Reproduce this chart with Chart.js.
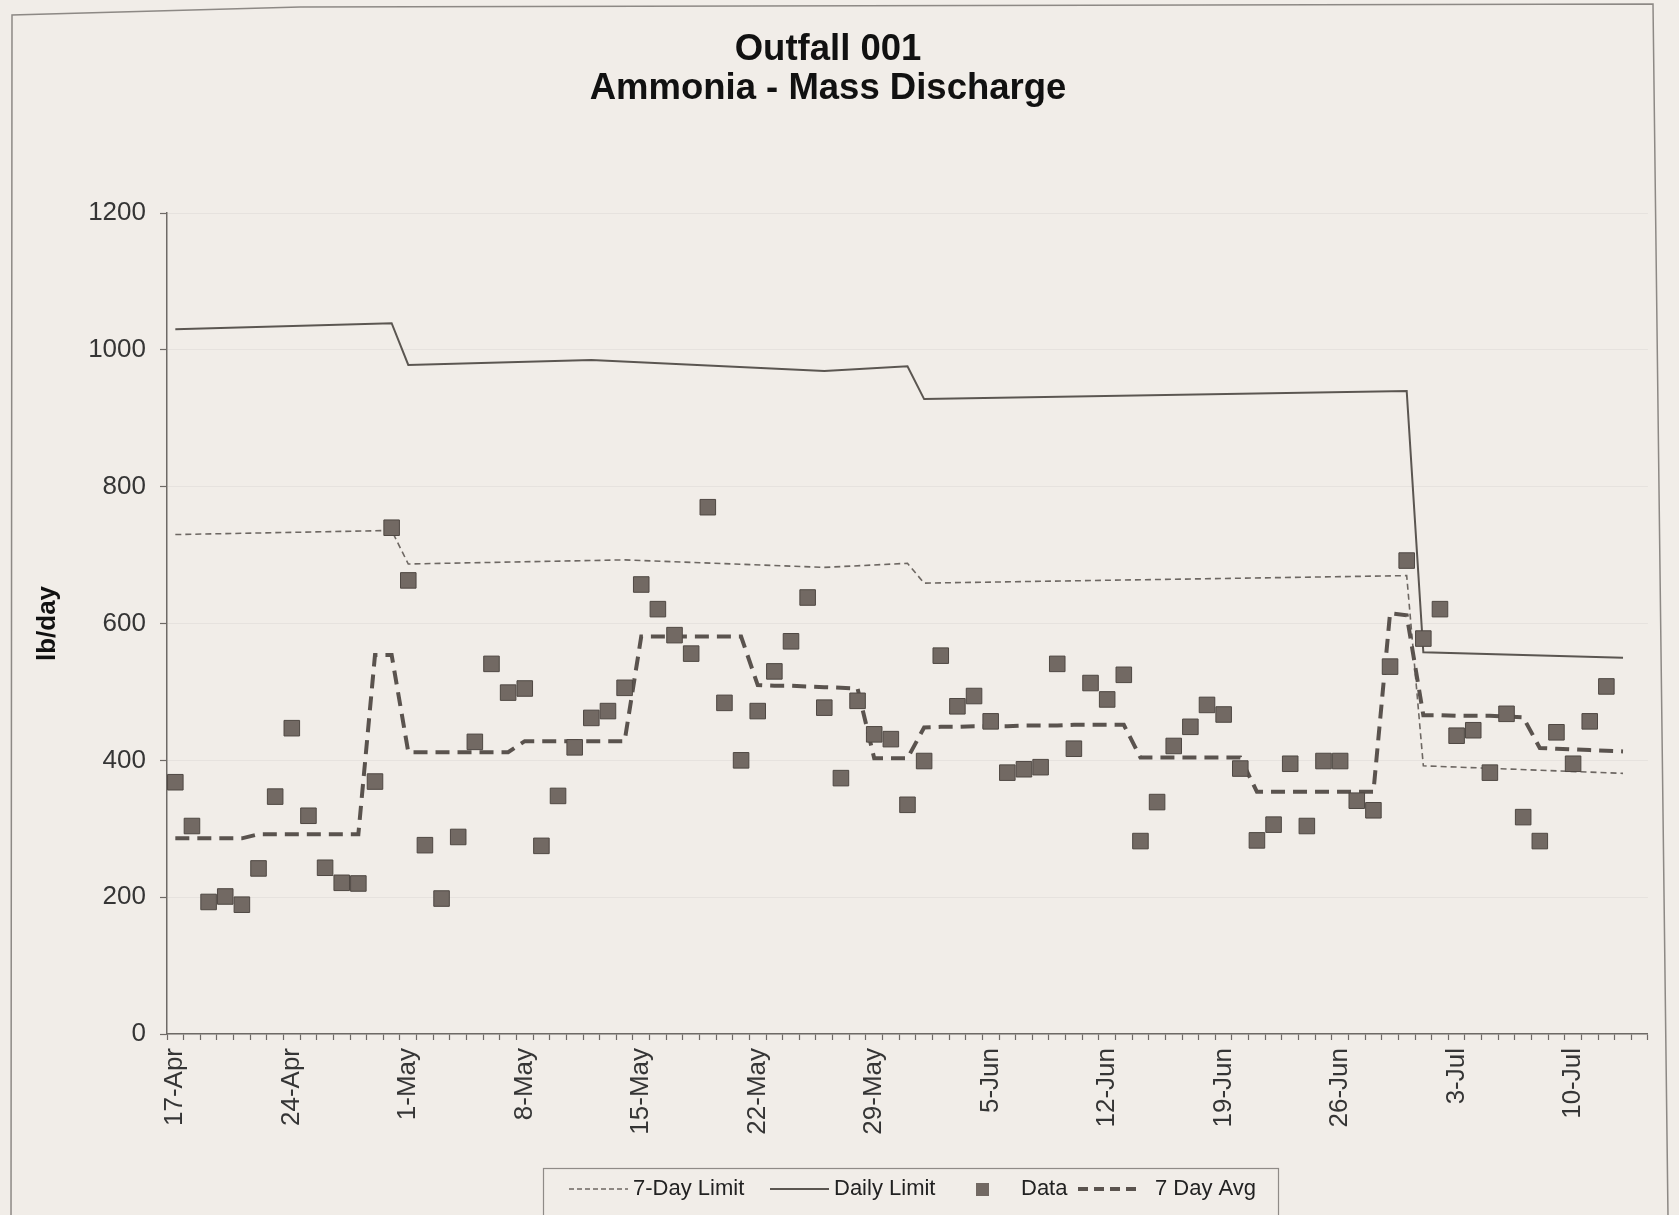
<!DOCTYPE html>
<html>
<head>
<meta charset="utf-8">
<script src="https://cdn.jsdelivr.net/npm/chart.js@4.4.1/dist/chart.umd.min.js"></script>
<style>
html,body{margin:0;padding:0;background:#f1ede8;overflow:hidden}
canvas{display:block}
</style>
</head>
<body>
<canvas id="c" width="1679" height="1215"></canvas>
<script>
// ---- categories (one per day) ----
const dates = [
  "17-Apr","18-Apr","19-Apr","20-Apr","21-Apr","22-Apr","23-Apr","24-Apr","25-Apr","26-Apr","27-Apr","28-Apr","29-Apr","30-Apr",
  "1-May","2-May","3-May","4-May","5-May","6-May","7-May","8-May","9-May","10-May","11-May","12-May","13-May","14-May","15-May","16-May",
  "17-May","18-May","19-May","20-May","21-May","22-May","23-May","24-May","25-May","26-May","27-May","28-May","29-May","30-May","31-May",
  "1-Jun","2-Jun","3-Jun","4-Jun","5-Jun","6-Jun","7-Jun","8-Jun","9-Jun","10-Jun","11-Jun","12-Jun","13-Jun","14-Jun","15-Jun",
  "16-Jun","17-Jun","18-Jun","19-Jun","20-Jun","21-Jun","22-Jun","23-Jun","24-Jun","25-Jun","26-Jun","27-Jun","28-Jun","29-Jun","30-Jun",
  "1-Jul","2-Jul","3-Jul","4-Jul","5-Jul","6-Jul","7-Jul","8-Jul","9-Jul","10-Jul","11-Jul","12-Jul","13-Jul","14-Jul"
];

// ---- series values (lb/day) ----
const dataValues = [
  368,304,193,201,189,242,347,447,319,243,221,220,369,740,
  663,276,198,288,427,541,499,505,275,348,419,462,472,506,657,621,583,556,770,484,400,472,530,574,638,477,374,487,438,431,335,
  399,553,479,494,457,382,387,390,541,417,513,489,525,282,339,421,449,481,467,388,283,306,395,304,399,399,341,327,537,692,
  578,621,436,444,382,468,317,282,441,395,457,508,null,null
];

const sevenDayAvg = [
  286,286,286,286,286,292,292,292,292,292,292,292,554,554,
  412,412,412,412,412,412,412,428,428,428,428,428,428,428,581,581,581,581,581,581,581,510,509,509,508,507,506,505,403,403,403,
  448,449,449,450,450,450,451,451,451,452,452,452,452,404,404,404,404,404,404,404,354,354,354,354,354,354,354,354,615,612,
  466,466,465,465,465,464,463,418,417,416,415,414,413,null
];

// limit lines: values read at their break points (null = no reading, line spans)
const dailyLimit = [
  1030,null,null,null,null,null,null,null,null,null,null,null,null,1039,
  978,null,null,null,null,null,null,null,null,null,null,985,null,null,null,null,null,null,null,null,null,null,null,null,null,969,null,null,null,null,976,
  928,null,null,null,null,null,null,null,null,null,null,null,null,null,null,null,null,null,null,null,null,null,null,null,null,null,null,null,null,940,
  558,null,null,null,null,null,null,null,null,null,null,null,550,null
];

const sevenDayLimit = [
  730,null,null,null,null,null,null,null,null,null,null,null,null,736,
  687,null,null,null,null,null,null,null,null,null,null,null,null,693,null,null,null,null,null,null,null,null,null,null,null,682,null,null,null,null,688,
  659,null,null,null,null,null,null,null,null,null,null,null,null,null,null,null,null,null,null,null,null,null,null,null,null,null,null,null,null,670,
  392,null,null,null,null,null,null,null,null,null,null,null,381,null
];

const titleLines = ["Outfall 001", "Ammonia - Mass Discharge"];
const yTitle = "lb/day";
const seriesNames = ["7-Day Limit", "Daily Limit", "Data", "7 Day Avg"];

const FONT = "'Liberation Sans', Arial, sans-serif";

const paperPlugin = {
  id: 'paper',
  beforeDraw(chart) {
    const ctx = chart.ctx;
    ctx.save();
    ctx.fillStyle = '#f1ede8';
    ctx.fillRect(0, 0, chart.width, chart.height);
    ctx.strokeStyle = '#8d8985';
    ctx.lineWidth = 1.5;
    ctx.beginPath();
    ctx.moveTo(11, 1215);
    ctx.lineTo(12, 15);
    ctx.lineTo(300, 7);
    ctx.lineTo(1653, 4);
    ctx.lineTo(1668, 1215);
    ctx.stroke();
    ctx.restore();
  }
};

const legendPlugin = {
  id: 'customLegend',
  afterDraw(chart) {
    const ctx = chart.ctx;
    const ds = chart.data.datasets;
    const cy = 1189;
    ctx.save();
    ctx.strokeStyle = '#8f8b87';
    ctx.lineWidth = 1.2;
    ctx.strokeRect(543.5, 1168.5, 735, 60);
    ctx.font = "22px " + FONT;
    ctx.fillStyle = '#222';
    ctx.textBaseline = 'middle';
    ctx.textAlign = 'left';
    const drawLine = (x0, x1, d, dash) => {
      ctx.save();
      ctx.strokeStyle = d.borderColor;
      ctx.lineWidth = d.borderWidth;
      ctx.setLineDash(dash);
      ctx.beginPath();
      ctx.moveTo(x0, cy);
      ctx.lineTo(x1, cy);
      ctx.stroke();
      ctx.restore();
    };
    drawLine(569, 628, ds[0], [5, 3]);
    ctx.fillText(ds[0].label, 633, cy);
    drawLine(770, 829, ds[1], []);
    ctx.fillText(ds[1].label, 834, cy);
    ctx.fillStyle = ds[2].backgroundColor;
    ctx.fillRect(976, cy - 6, 13, 13);
    ctx.fillStyle = '#222';
    ctx.fillText(ds[2].label, 1021, cy);
    drawLine(1078, 1142, ds[3], [10, 6]);
    ctx.fillText(ds[3].label, 1155, cy);
    ctx.restore();
  }
};

new Chart(document.getElementById('c'), {
  type: 'line',
  data: {
    labels: dates,
    datasets: [
      {
        label: seriesNames[0], data: sevenDayLimit, borderColor: '#6d6762', borderWidth: 1.6,
        borderDash: [6, 4], pointRadius: 0, spanGaps: true, tension: 0, fill: false, order: 3
      },
      {
        label: seriesNames[1], data: dailyLimit, borderColor: '#5b5651', borderWidth: 2,
        pointRadius: 0, spanGaps: true, tension: 0, fill: false, order: 2
      },
      {
        label: seriesNames[2], data: dataValues, showLine: false, pointStyle: 'rect',
        pointRadius: 11, pointHoverRadius: 11, backgroundColor: '#726963', borderColor: '#4f4843',
        borderWidth: 1, order: 0
      },
      {
        label: seriesNames[3], data: sevenDayAvg, borderColor: '#5a534e', borderWidth: 4,
        borderDash: [14, 8], pointRadius: 0, tension: 0, fill: false, order: 1
      }
    ]
  },
  options: {
    responsive: false,
    animation: false,
    devicePixelRatio: 1,
    layout: { padding: { left: 3, right: 26, top: 0, bottom: 0 } },
    plugins: {
      legend: { display: false },
      tooltip: { enabled: false },
      title: {
        display: true,
        text: titleLines,
        color: '#111',
        font: { family: FONT, size: 36.5, weight: 'bold', lineHeight: 1.055 },
        padding: { top: 31, bottom: 105 }
      }
    },
    scales: {
      x: {
        type: 'category',
        offset: true,
        grid: { offset: true, drawOnChartArea: false, drawTicks: true, tickLength: 6, tickColor: '#6e6a66', tickWidth: 1.2 },
        border: { color: '#6e6a66', width: 1.5 },
        ticks: {
          autoSkip: false, maxRotation: 90, minRotation: 90, padding: 8,
          color: '#353535', font: { family: FONT, size: 26 },
          callback: (v, i) => (i % 7 === 0 ? dates[i] : '')
        },
        afterFit: (s) => { s.height = 181; }
      },
      y: {
        min: 0, max: 1200,
        grid: { color: 'rgba(0,0,0,0.045)', tickLength: 7, tickColor: '#6e6a66', tickWidth: 1.2 },
        border: { color: '#6e6a66', width: 1.5 },
        ticks: {
          stepSize: 200, padding: 14, color: '#353535', font: { family: FONT, size: 26 },
          callback: (v) => String(v)
        },
        title: {
          display: true, text: yTitle, color: '#111',
          font: { family: FONT, size: 26, weight: 'bold' },
          padding: { top: 29, bottom: 0 }
        },
        afterFit: (s) => { s.width = 164; }
      }
    }
  },
  plugins: [paperPlugin, legendPlugin]
});
</script>
</body>
</html>
